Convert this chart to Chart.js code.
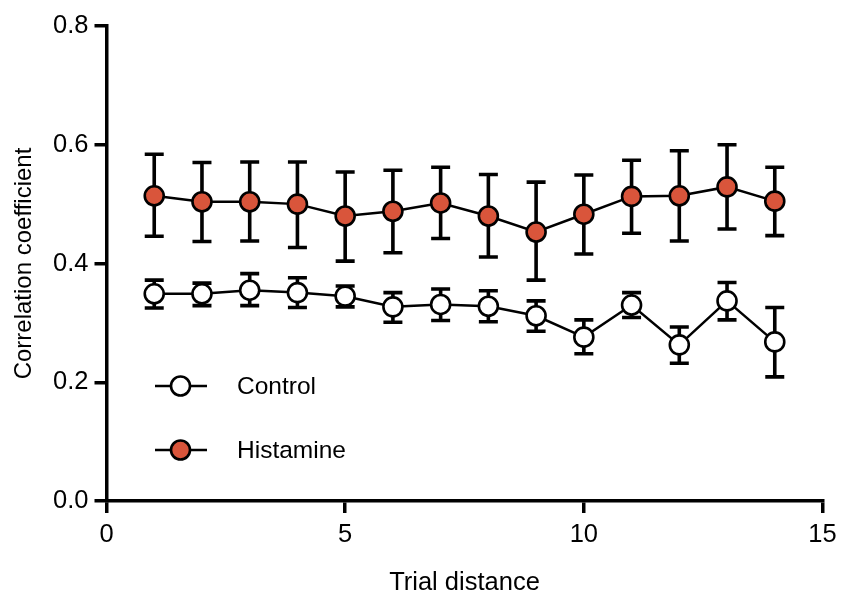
<!DOCTYPE html>
<html>
<head>
<meta charset="utf-8">
<script src="https://cdn.jsdelivr.net/npm/chart.js@4"></script>
<style>
  html, body { margin: 0; padding: 0; background: #ffffff; }
  #wrap { width: 841px; height: 597px; position: relative; }
</style>
</head>
<body>
<div id="wrap"><canvas id="c"></canvas></div>
<script>
// ---- data ----
const trialDistance = [1, 2, 3, 4, 5, 6, 7, 8, 9, 10, 11, 12, 13, 14];

const controlMean  = [0.349, 0.349, 0.355, 0.351, 0.345, 0.327, 0.331, 0.328, 0.312, 0.276, 0.330, 0.263, 0.337, 0.268];
const controlUpper = [0.372, 0.367, 0.383, 0.376, 0.362, 0.351, 0.357, 0.354, 0.337, 0.305, 0.351, 0.293, 0.368, 0.326];
const controlLower = [0.325, 0.329, 0.329, 0.326, 0.327, 0.301, 0.304, 0.302, 0.286, 0.248, 0.309, 0.232, 0.305, 0.209];

const histamineMean  = [0.514, 0.504, 0.504, 0.500, 0.480, 0.488, 0.502, 0.480, 0.453, 0.483, 0.513, 0.514, 0.529, 0.505];
const histamineUpper = [0.584, 0.570, 0.571, 0.571, 0.554, 0.557, 0.562, 0.550, 0.537, 0.549, 0.574, 0.590, 0.600, 0.562];
const histamineLower = [0.446, 0.437, 0.438, 0.427, 0.404, 0.418, 0.442, 0.411, 0.372, 0.416, 0.451, 0.438, 0.458, 0.447];

const xTicks = [0, 5, 10, 15];
const yTicks = [0.0, 0.2, 0.4, 0.6, 0.8];

const seriesNames = ['Control', 'Histamine'];
const xTitle = 'Trial distance';
const yTitle = 'Correlation coefficient';

// ---- styles ----
const FONT = '"Liberation Sans", Arial, Helvetica, sans-serif';
const HIST_FILL = '#d9553b';

const toPoints = (xs, ys) => xs.map((x, i) => ({ x: x, y: ys[i] }));

const errorBarPlugin = {
  id: 'errorBars',
  beforeDatasetsDraw(chart, args, opts) {
    const { ctx } = chart;
    const xs = chart.scales.x, ys = chart.scales.y;
    chart.data.datasets.forEach((ds, di) => {
      if (!chart.isDatasetVisible(di)) return;
      ctx.save();
      ctx.strokeStyle = opts.color;
      ctx.lineWidth = opts.width;
      ctx.lineCap = 'butt';
      ds.data.forEach((p, i) => {
        const px = xs.getPixelForValue(p.x);
        const top = ys.getPixelForValue(ds.errorUpper[i]);
        const bot = ys.getPixelForValue(ds.errorLower[i]);
        ctx.beginPath();
        ctx.moveTo(px, top); ctx.lineTo(px, bot);
        ctx.moveTo(px - opts.cap, top); ctx.lineTo(px + opts.cap, top);
        ctx.moveTo(px - opts.cap, bot); ctx.lineTo(px + opts.cap, bot);
        ctx.stroke();
      });
      ctx.restore();
    });
  }
};

const insideLegendPlugin = {
  id: 'insideLegend',
  afterDraw(chart, args, o) {
    const { ctx, chartArea } = chart;
    chart.data.datasets.forEach((ds, i) => {
      const y0 = chartArea.top + o.top + i * o.rowGap;
      const x0 = chartArea.left + o.left;
      ctx.save();
      ctx.strokeStyle = ds.borderColor;
      ctx.lineWidth = o.lineWidth;
      ctx.beginPath();
      ctx.moveTo(x0, y0); ctx.lineTo(x0 + o.lineLength, y0);
      ctx.stroke();
      ctx.beginPath();
      ctx.arc(x0 + o.markerOffset, y0, ds.pointRadius, 0, Math.PI * 2);
      ctx.fillStyle = ds.pointBackgroundColor;
      ctx.fill();
      ctx.lineWidth = ds.pointBorderWidth;
      ctx.strokeStyle = ds.pointBorderColor;
      ctx.stroke();
      ctx.fillStyle = '#000';
      ctx.font = o.fontSize + 'px ' + FONT;
      ctx.textBaseline = 'middle';
      ctx.textAlign = 'left';
      ctx.fillText(ds.label, x0 + o.textOffset, y0 + 1);
      ctx.restore();
    });
  }
};

const axisCommon = {
  border: { display: true, color: '#000', width: 3.5 },
  grid: { display: true, drawOnChartArea: false, drawTicks: true, tickLength: 12, tickWidth: 3.5, tickColor: '#000', color: '#000', lineWidth: 3.5 }
};

new Chart(document.getElementById('c'), {
  type: 'line',
  data: {
    datasets: [
      {
        label: seriesNames[0],
        data: toPoints(trialDistance, controlMean),
        errorUpper: controlUpper,
        errorLower: controlLower,
        borderColor: '#000',
        borderWidth: 2.5,
        pointRadius: 9.5,
        pointBorderWidth: 2.6,
        pointBackgroundColor: '#ffffff',
        pointBorderColor: '#000',
        tension: 0,
        fill: false,
        clip: false
      },
      {
        label: seriesNames[1],
        data: toPoints(trialDistance, histamineMean),
        errorUpper: histamineUpper,
        errorLower: histamineLower,
        borderColor: '#000',
        borderWidth: 2.5,
        pointRadius: 9.5,
        pointBorderWidth: 2.6,
        pointBackgroundColor: HIST_FILL,
        pointBorderColor: '#000',
        tension: 0,
        fill: false,
        clip: false
      }
    ]
  },
  options: {
    responsive: true,
    maintainAspectRatio: false,
    animation: false,
    events: [],
    layout: { padding: { top: 26, right: 18.5, bottom: 0, left: 0 } },
    plugins: {
      legend: { display: false },
      tooltip: { enabled: false },
      errorBars: { color: '#000', width: 3.6, cap: 9.5 },
      insideLegend: { left: 48.5, top: 360, rowGap: 64, lineLength: 52, markerOffset: 25.5, textOffset: 82, lineWidth: 2.6, fontSize: 24.5 }
    },
    scales: {
      x: Object.assign({}, axisCommon, {
        type: 'linear',
        min: xTicks[0],
        max: xTicks[xTicks.length - 1],
        afterBuildTicks: s => { s.ticks = xTicks.map(v => ({ value: v })); },
        ticks: { color: '#000', font: { family: FONT, size: 25.5 }, padding: 7, maxRotation: 0, autoSkip: false },
        title: { display: true, text: xTitle, color: '#000', font: { family: FONT, size: 25.5, lineHeight: 1 }, padding: { top: 0, bottom: 1 } },
        afterFit: s => { s.height = 96; s.paddingLeft = 0; s.paddingRight = 0; }
      }),
      y: Object.assign({}, axisCommon, {
        type: 'linear',
        min: yTicks[0],
        max: yTicks[yTicks.length - 1],
        afterBuildTicks: s => { s.ticks = yTicks.map(v => ({ value: v })); },
        ticks: { color: '#000', font: { family: FONT, size: 25.5 }, padding: 6, callback: v => Number(v).toFixed(1) },
        title: { display: true, text: yTitle, color: '#000', font: { family: FONT, size: 24, lineHeight: 1 }, padding: { top: 12, bottom: 0 } },
        afterFit: s => { s.width = 106.5; s.paddingTop = 0; s.paddingBottom = 0; }
      })
    }
  },
  plugins: [errorBarPlugin, insideLegendPlugin]
});
</script>
</body>
</html>
